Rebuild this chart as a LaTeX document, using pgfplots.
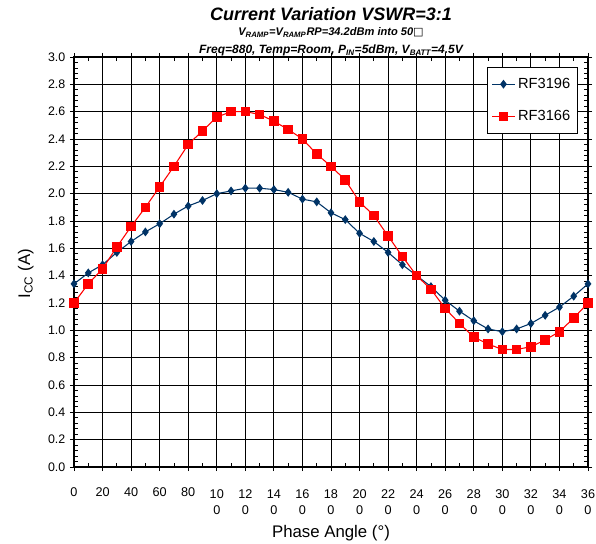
\documentclass[border=0pt]{standalone}
\usepackage{pgfplots}
\pgfplotsset{compat=1.18}
\usepackage{fontspec}
\setmainfont{Liberation Sans}
\newfontfamily\dejavu{DejaVu Sans}
\definecolor{navy}{RGB}{0,51,102}
\definecolor{rfred}{RGB}{255,0,0}
\pgfplotstableread{
x y
0 1.34
10 1.42
20 1.48
30 1.57
40 1.65
50 1.72
60 1.78
70 1.85
80 1.91
90 1.95
100 2.00
110 2.02
120 2.04
130 2.04
140 2.03
150 2.01
160 1.96
170 1.94
180 1.86
190 1.81
200 1.71
210 1.65
220 1.57
230 1.48
240 1.40
250 1.32
260 1.22
270 1.14
280 1.07
290 1.01
300 0.99
310 1.01
320 1.05
330 1.11
340 1.17
350 1.25
360 1.34
}\rfa
\pgfplotstableread{
x y
0 1.20
10 1.34
20 1.45
30 1.61
40 1.76
50 1.90
60 2.05
70 2.20
80 2.36
90 2.46
100 2.56
110 2.60
120 2.60
130 2.58
140 2.53
150 2.47
160 2.40
170 2.29
180 2.20
190 2.10
200 1.94
210 1.84
220 1.69
230 1.54
240 1.40
250 1.30
260 1.16
270 1.05
280 0.95
290 0.90
300 0.86
310 0.86
320 0.88
330 0.93
340 0.99
350 1.09
360 1.20
}\rfb
\newcommand{\tl}[1]{\begin{tabular}[t]{@{}c@{}}#1\\0\end{tabular}}
\begin{document}
\begin{tikzpicture}
\path[use as bounding box] (-55.5pt,-57pt) rectangle (391.5pt,350.25pt);
\begin{axis}[
  at={(0,0)}, anchor=south west,
  scale only axis, width=385.5pt, height=307.5pt,
  xmin=0, xmax=360, ymin=0, ymax=3,
  clip=false,
  xtick={0,20,...,360},
  xticklabels={0,20,40,60,80,\tl{10},\tl{12},\tl{14},\tl{16},\tl{18},\tl{20},\tl{22},\tl{24},\tl{26},\tl{28},\tl{30},\tl{32},\tl{34},\tl{36}},
  minor x tick num=1,
  ytick={0,0.2,0.4,0.6,0.8,1.0,1.2,1.4,1.6,1.8,2.0,2.2,2.4,2.6,2.8,3.0},
  minor y tick num=4,
  /pgf/number format/assume math mode=true,
  yticklabel style={/pgf/number format/fixed, /pgf/number format/fixed zerofill, /pgf/number format/precision=1, font=\fontsize{9.3}{11}\selectfont},
  xticklabel style={anchor=north, inner sep=0pt, yshift=-12pt, font=\fontsize{9.5}{12}\selectfont},
  tick align=outside,
  major tick length=3pt,
  minor tick length=-3pt,
  tick style={black, line width=0.6pt},
  grid=major,
  major grid style={black, line width=0.6pt},
  axis line style={black, line width=0.8pt},
  xlabel={Phase Angle (°)},
  xlabel style={font=\fontsize{12.6}{14}\selectfont, at={(axis description cs:0.5,0)}, anchor=base, yshift=-53pt},
  ylabel={I\textsubscript{CC} (A)},
  ylabel style={font=\fontsize{12.6}{14}\selectfont, at={(axis description cs:-0.094,0.472)}, anchor=center},
  legend style={at={(rel axis cs:0.9805,0.9756)}, anchor=north east, draw=black, line width=0.6pt,
    font=\fontsize{11}{12}\selectfont, row sep=11pt, inner xsep=3.5pt, inner ysep=6pt},
  legend cell align=left,
]
\addplot[navy, line width=0.8pt, mark=diamond*, mark size=2.7pt, mark options={fill=navy}] table {\rfa};
\addlegendentry{RF3196}
\addplot[rfred, line width=0.8pt, mark=square*, mark size=3.2pt, mark options={fill=rfred}] table {\rfb};
\addlegendentry{RF3166}
\end{axis}
\node[anchor=base, font=\bfseries\itshape\fontsize{13.5}{15}\selectfont] at (192.75pt,334.5pt) {Current Variation VSWR=3:1};
\node[anchor=base, font=\bfseries\itshape\fontsize{8.3}{9}\selectfont] at (192.75pt,323.5pt) {V\textsubscript{RAMP}=V\textsubscript{RAMP}RP=34.2dBm into 50{\dejavu\upshape\mdseries □}};
\node[anchor=base, font=\bfseries\itshape\fontsize{9}{10}\selectfont] at (192.75pt,310pt) {Freq=880, Temp=Room, P\textsubscript{IN}=5dBm, V\textsubscript{BATT}=4.5V};
\end{tikzpicture}
\end{document}
